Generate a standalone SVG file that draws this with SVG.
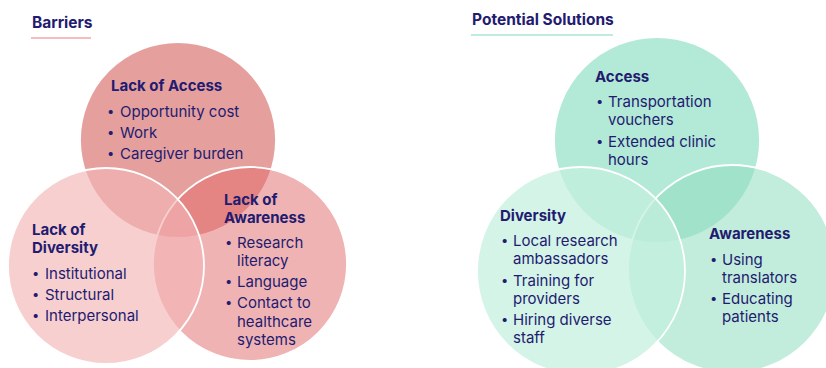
<svg xmlns="http://www.w3.org/2000/svg" width="826" height="368" viewBox="0 0 826 368">
  <style>
    .title { font-family: Inter, "Open Sans", "Liberation Sans", sans-serif; font-weight: 700; font-size: 15.5px; fill: #221b6f; }
    .head { font-family: Inter, "Open Sans", "Liberation Sans", sans-serif; font-weight: 700; font-size: 15px; fill: #221b6f; }
    .item { font-family: Inter, "Open Sans", "Liberation Sans", sans-serif; font-weight: 400; font-size: 15px; fill: #221b6f; }
    .dot { font-family: Inter, "Open Sans", "Liberation Sans", sans-serif; font-size: 13px; fill: #221b6f; }
    .ring { stroke: #ffffff; stroke-width: 1.8; }
  </style>
  <rect width="826" height="368" fill="#ffffff"/>

  <!-- Barriers -->
  <g id="barriers-title">
    <text class="title" x="32" y="28">Barriers</text>
    <line x1="31" y1="38" x2="91" y2="38" stroke="#f0a9a9" stroke-width="1.6"/>
  </g>

  <g id="lack-of-access">
    <circle class="ring" cx="178" cy="140" r="98" fill="#e5a09e"/>
  </g>
  <g id="lack-of-awareness">
    <circle class="ring" cx="250" cy="264" r="97" fill="#e26e6e" fill-opacity="0.52"/>
  </g>
  <g id="lack-of-diversity">
    <circle class="ring" cx="106" cy="266" r="98" fill="#f2b6b6" fill-opacity="0.65"/>
  </g>

  <g id="barrier-labels">
    <text class="head" x="111" y="91">Lack of Access</text>
    <text class="dot" x="107" y="116">•</text><text class="item" x="120" y="117">Opportunity cost</text>
    <text class="dot" x="107" y="137">•</text><text class="item" x="120" y="138">Work</text>
    <text class="dot" x="107" y="158">•</text><text class="item" x="120" y="159">Caregiver burden</text>

    <text class="head" x="32" y="235">Lack of</text>
    <text class="head" x="32" y="253">Diversity</text>
    <text class="dot" x="32" y="278">•</text><text class="item" x="45" y="279">Institutional</text>
    <text class="dot" x="32" y="299">•</text><text class="item" x="45" y="300">Structural</text>
    <text class="dot" x="32" y="320">•</text><text class="item" x="45" y="321">Interpersonal</text>

    <text class="head" x="224" y="205">Lack of</text>
    <text class="head" x="224" y="223">Awareness</text>
    <text class="dot" x="225" y="247">•</text><text class="item" x="237" y="248">Research</text>
    <text class="item" x="237" y="266">literacy</text>
    <text class="dot" x="225" y="286">•</text><text class="item" x="237" y="287">Language</text>
    <text class="dot" x="225" y="307">•</text><text class="item" x="237" y="308">Contact to</text>
    <text class="item" x="237" y="327">healthcare</text>
    <text class="item" x="237" y="345">systems</text>
  </g>

  <!-- Potential Solutions -->
  <g id="solutions-title">
    <text class="title" x="472" y="25">Potential Solutions</text>
    <line x1="471" y1="35" x2="613" y2="35" stroke="#a8e6d2" stroke-width="1.6"/>
  </g>

  <g id="access">
    <circle class="ring" cx="657" cy="140" r="103" fill="#b3e9d7"/>
  </g>
  <g id="awareness">
    <circle class="ring" cx="732" cy="269" r="104" fill="#8fdfc0" fill-opacity="0.55"/>
  </g>
  <g id="diversity">
    <circle class="ring" cx="581" cy="271" r="104" fill="#c4f0df" fill-opacity="0.72"/>
  </g>

  <g id="solution-labels">
    <text class="head" x="595" y="82">Access</text>
    <text class="dot" x="596" y="106">•</text><text class="item" x="608" y="107">Transportation</text>
    <text class="item" x="608" y="125">vouchers</text>
    <text class="dot" x="596" y="146">•</text><text class="item" x="608" y="147">Extended clinic</text>
    <text class="item" x="608" y="165">hours</text>

    <text class="head" x="500" y="221">Diversity</text>
    <text class="dot" x="501" y="245">•</text><text class="item" x="513" y="246">Local research</text>
    <text class="item" x="513" y="264">ambassadors</text>
    <text class="dot" x="501" y="285">•</text><text class="item" x="513" y="286">Training for</text>
    <text class="item" x="513" y="304">providers</text>
    <text class="dot" x="501" y="324">•</text><text class="item" x="513" y="325">Hiring diverse</text>
    <text class="item" x="513" y="343">staff</text>

    <text class="head" x="709" y="239">Awareness</text>
    <text class="dot" x="710" y="264">•</text><text class="item" x="722" y="265">Using</text>
    <text class="item" x="722" y="283">translators</text>
    <text class="dot" x="710" y="303">•</text><text class="item" x="722" y="304">Educating</text>
    <text class="item" x="722" y="322">patients</text>
  </g>
</svg>
